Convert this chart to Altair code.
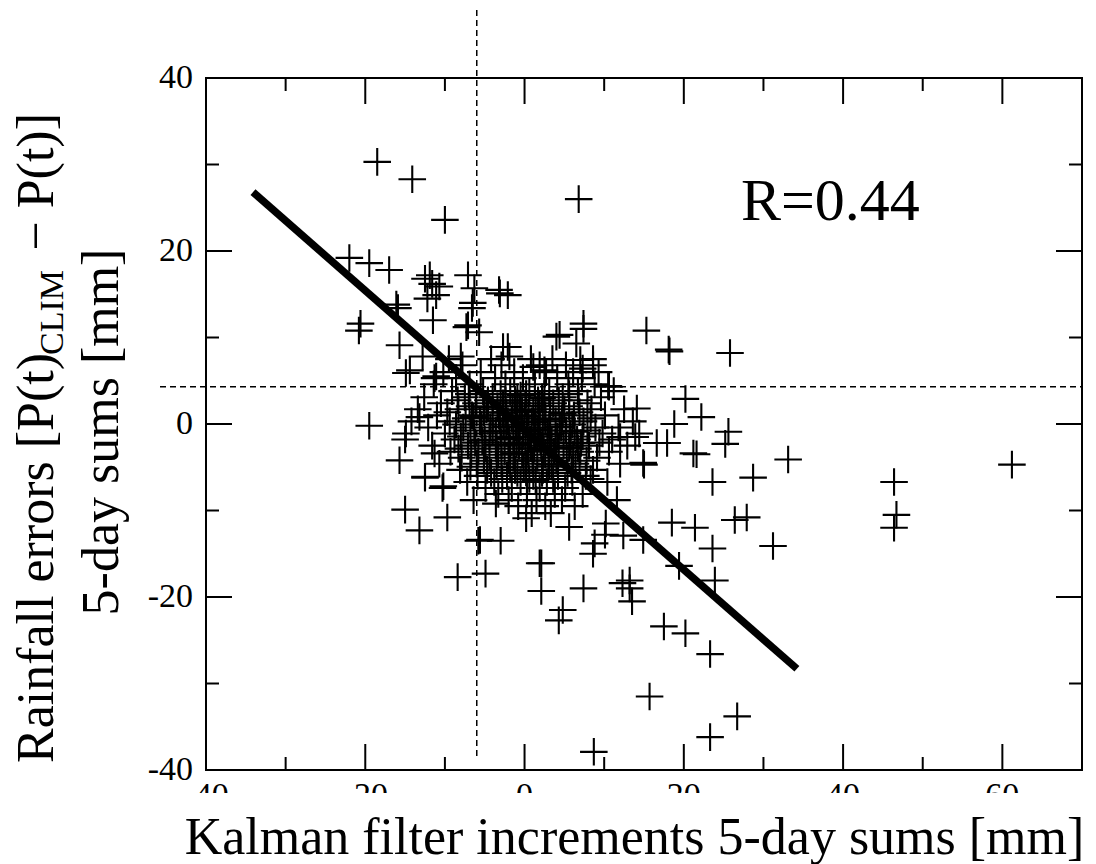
import altair as alt
import pandas as pd

FONT = "Liberation Serif"

# ---- data ----
# scattered (clearly separable) crosses
outer_pts = [
    (-18.5, 30.3), (-14.1, 28.3), (-10.0, 23.6), (6.8, 26.0),
    (-22.0, 19.2), (-19.5, 18.6), (-17.0, 17.8),
    (-11.9, 17.2), (-10.7, 15.9), (-11.1, 14.9), (-12.2, 14.5), (-12.5, 16.8), (-11.6, 16.2),
    (-7.1, 17.2), (-6.3, 15.7), (-3.2, 15.5), (-2.1, 14.9), (-6.5, 14.0), (-6.6, 13.4),
    (-15.9, 13.4), (-11.5, 12.0), (-20.6, 11.6), (-20.8, 10.8), (-7.1, 11.4), (-5.7, 10.6),
    (4.4, 10.3), (7.4, 11.0), (6.5, 9.3), (-15.7, 9.1), (-12.8, 7.8), (-8.0, 7.8), (-2.1, 8.9), (-1.9, 7.8),
    (2.5, 6.2), (7.3, 6.4), (-14.9, 5.9), (-11.1, 5.5), (10.6, 4.3), (4.0, 10.1), (8.6, 6.8), (7.0, 7.4),
    (-14.4, 6.2), (-11.3, 5.3), (-7.3, 11.2),
    (-19.5, -0.2), (-13.2, 0.8), (-14.9, -1.1), (-15.0, -1.8), (-15.7, -4.2), (-11.3, -3.4),
    (-12.5, -6.2), (-10.3, -7.4), (-15.0, -9.9), (-13.2, -12.3), (-9.7, -10.8), (-5.8, -13.5),
    (-3.0, -13.5), (-8.4, -17.7), (-4.9, -17.3), (2.1, -16.1), (2.1, -19.3), (7.4, -19.0),
    (4.8, -21.5), (4.3, -22.7), (12.3, -18.4), (-3.6, -9.2), (0.2, -10.9), (-6.4, -8.8),
    (8.8, -13.8), (8.6, -15.0), (5.6, -11.9), (10.2, -11.5),
    (15.3, 10.8), (18.2, 8.4), (25.8, 8.2), (10.5, 4.4), (20.2, 2.9), (14.1, 1.8), (22.2, 0.8), (18.8, 0.0),
    (25.6, -0.9), (25.2, -2.3), (17.9, -2.2), (16.6, -2.2), (13.9, -1.5), (12.0, -1.5), (21.6, -3.5), (15.0, -4.7),
    (33.1, -4.1), (23.6, -6.7), (28.7, -6.2), (46.4, -6.7), (61.2, -4.7), (46.7, -10.5), (46.4, -12.0),
    (11.6, -8.8), (18.5, -11.4), (21.4, -12.0), (26.4, -11.1), (27.9, -10.8), (12.4, -12.9), (14.9, -13.4),
    (10.1, -12.8), (23.6, -14.4), (31.2, -14.1), (19.4, -16.4), (23.9, -18.1), (13.2, -18.1), (13.2, -19.0),
    (13.5, -20.5), (17.5, -23.4), (20.2, -24.2), (23.3, -26.6), (15.7, -31.5), (26.7, -33.8), (23.3, -36.2),
    (8.7, -37.9), (18.1, 8.6), (-16.1, 13.8), (-3.1, 15.1), (-2.7, 8.9), (1.1, 6.6), (7.4, 11.6),
    (14.9, -4.5), (21.2, -3.4), (-12.5, -6.1), (-10.2, -7.2), (-5.6, -13.4), (1.9, -16.1),
]

# dense core (estimated)
core_pts = [
    (-9.5, 7.5), (-4.2, 7.5), (0.8, 7.5), (3.5, 7.5), (8.6, 7.5),
    (-7.8, 6.8), (-2.9, 6.8), (1.9, 6.8), (5.2, 6.8),
    (-10.2, 6.0), (-5.5, 6.0), (-1.3, 6.0), (2.7, 6.0), (6.1, 6.0), (9.3, 6.0),
    (-8.6, 5.3), (-3.7, 5.3), (-0.2, 5.3), (4.1, 5.3), (7.2, 5.3),
    (-11.4, 4.6), (-6.9, 4.6), (-2.4, 4.6), (1.3, 4.6), (5.5, 4.6), (8.8, 4.6),
    (-9.1, 3.8), (-5.2, 3.8), (-1.8, 3.8), (0.6, 3.8), (3.1, 3.8), (6.7, 3.8), (11.2, 3.8),
    (-12.6, 3.1), (-7.5, 3.1), (-4.0, 3.1), (-0.9, 3.1), (2.2, 3.1), (4.8, 3.1), (9.6, 3.1),
    (-10.5, 2.4), (-6.1, 2.4), (-2.7, 2.4), (0.1, 2.4), (3.6, 2.4), (7.9, 2.4),
    (-13.4, 1.7), (-8.3, 1.7), (-4.8, 1.7), (-1.5, 1.7), (1.4, 1.7), (5.0, 1.7), (8.4, 1.7), (12.5, 1.7),
    (-11.0, 1.0), (-6.6, 1.0), (-3.2, 1.0), (-0.4, 1.0), (2.6, 1.0), (6.2, 1.0), (10.1, 1.0),
    (-14.2, 0.3), (-9.4, 0.3), (-5.6, 0.3), (-2.1, 0.3), (0.9, 0.3), (3.9, 0.3), (7.4, 0.3), (13.6, 0.3),
    (-12.1, -0.4), (-7.7, -0.4), (-4.3, -0.4), (-1.1, -0.4), (1.8, -0.4), (4.6, -0.4), (8.9, -0.4), (11.8, -0.4),
    (-10.0, -1.1), (-6.3, -1.1), (-3.0, -1.1), (-0.2, -1.1), (2.9, -1.1), (5.7, -1.1), (9.8, -1.1), (14.4, -1.1),
    (-8.8, -1.8), (-5.0, -1.8), (-1.9, -1.8), (0.7, -1.8), (3.4, -1.8), (6.6, -1.8), (11.0, -1.8),
    (-11.6, -2.5), (-7.1, -2.5), (-3.6, -2.5), (-0.7, -2.5), (2.1, -2.5), (4.9, -2.5), (8.1, -2.5), (12.9, -2.5),
    (-9.3, -3.2), (-5.8, -3.2), (-2.5, -3.2), (0.4, -3.2), (3.7, -3.2), (7.0, -3.2), (10.6, -3.2),
    (-7.9, -3.9), (-4.4, -3.9), (-1.4, -3.9), (1.6, -3.9), (5.3, -3.9), (9.1, -3.9),
    (-10.7, -4.6), (-6.0, -4.6), (-2.9, -4.6), (0.2, -4.6), (3.0, -4.6), (6.4, -4.6), (12.0, -4.6),
    (-8.1, -5.3), (-4.7, -5.3), (-1.2, -5.3), (2.3, -5.3), (5.9, -5.3), (8.6, -5.3),
    (-5.9, -6.0), (-2.2, -6.0), (1.1, -6.0), (4.2, -6.0), (7.7, -6.0),
    (-7.2, -6.7), (-3.8, -6.7), (-0.5, -6.7), (2.8, -6.7), (6.0, -6.7), (10.4, -6.7),
    (-4.9, -7.4), (-1.6, -7.4), (1.9, -7.4), (5.1, -7.4),
    (-3.3, -8.1), (0.3, -8.1), (3.8, -8.1), (7.3, -8.1),
    (-2.0, -8.8), (1.5, -8.8), (4.7, -8.8),
    (-0.8, -9.5), (2.6, -9.5), (6.3, -9.5),
    (0.9, -10.3), (3.3, -10.3),
    (-1.6, 0.6), (0.4, -0.8), (1.2, 0.2), (-0.6, -1.5), (2.0, -1.9), (-2.3, -0.3), (0.0, 0.9),
    (1.7, -0.6), (-1.0, -2.3), (2.6, 0.5), (-3.1, 0.4), (0.8, -2.8), (-0.3, 1.6), (3.2, -1.2),
    (-2.0, -1.6), (1.1, 1.4), (-1.3, -3.4), (0.5, -4.2), (2.4, -3.0), (-2.7, 1.3), (3.9, -2.2),
    (-0.9, 2.4), (1.9, 2.1), (-3.5, -2.4), (4.4, -0.3), (-4.0, -0.9), (0.2, -5.6), (1.4, -6.5),
    (-1.8, -5.0), (3.1, -4.7), (-0.5, 3.3), (2.2, 3.0), (-2.4, 2.7), (4.8, 1.2), (5.6, -2.7),
    (-4.6, 1.9), (-5.3, -1.9), (6.3, -0.9), (-6.4, 0.8), (7.1, -2.2),
    (-7.0, 3.45), (-3.0, 3.45), (0.2, 3.45), (2.5, 3.45), (5.6, 3.45),
    (-8.4, 2.75), (-4.6, 2.75), (-1.2, 2.75), (1.7, 2.75), (4.3, 2.75), (6.8, 2.75),
    (-6.9, 2.05), (-3.4, 2.05), (-0.6, 2.05), (2.3, 2.05), (5.6, 2.05),
    (-9.7, 1.35), (-5.1, 1.35), (-2.3, 1.35), (0.5, 1.35), (3.2, 1.35), (6.9, 1.35),
    (-7.4, 0.65), (-4.0, 0.65), (-1.0, 0.65), (1.9, 0.65), (4.7, 0.65), (8.3, 0.65),
    (-8.6, -0.05), (-5.4, -0.05), (-2.6, -0.05), (0.3, -0.05), (3.1, -0.05), (6.0, -0.05),
    (-6.8, -0.75), (-3.6, -0.75), (-0.8, -0.75), (2.3, -0.75), (5.2, -0.75), (7.9, -0.75),
    (-8.0, -1.45), (-4.4, -1.45), (-1.4, -1.45), (1.4, -1.45), (4.1, -1.45), (7.3, -1.45),
    (-6.2, -2.15), (-2.9, -2.15), (0.1, -2.15), (2.9, -2.15), (5.8, -2.15), (9.4, -2.15),
    (-8.3, -2.85), (-4.9, -2.85), (-1.8, -2.85), (1.2, -2.85), (4.3, -2.85), (6.7, -2.85),
    (-6.7, -3.55), (-3.3, -3.55), (-0.3, -3.55), (2.6, -3.55), (6.1, -3.55),
    (-5.1, -4.25), (-2.0, -4.25), (1.0, -4.25), (4.0, -4.25), (7.8, -4.25),
    (-6.8, -4.95), (-3.5, -4.95), (-0.1, -4.95), (3.4, -4.95), (6.9, -4.95),
    (-4.2, -5.65), (-0.9, -5.65), (2.2, -5.65), (5.4, -5.65),
    (-2.8, -6.35), (0.6, -6.35), (3.6, -6.35), (8.3, -6.35),
]

fit_x = [-34.1, 34.2]
fit_y = [26.8, -28.3]
x_ref = -6.0
y_ref = 4.3
r_label = "R=0.44"
x_major = [-40, -20, 0, 20, 40, 60]
x_minor = [-30, -10, 10, 30, 50]
y_labels = [-40, -20, 0, 20, 40]
y_major = [-20, 0, 20]
y_minor = [-30, -10, 10, 30]

# ---- tables ----
pts = outer_pts + core_pts
df_pts = pd.DataFrame({"x": [p[0] for p in pts], "y": [p[1] for p in pts]})
df_fit = pd.DataFrame({"x": fit_x, "y": fit_y})
df_xlab = pd.DataFrame({"v": x_major, "t": [str(v) for v in x_major]})
df_ylab = pd.DataFrame({"v": y_labels, "t": [str(v) for v in y_labels]})
one = pd.DataFrame({"k": [0]})

W, H = 876, 692
xs = alt.Scale(domain=[-40, 70], nice=False, zero=False)
ys = alt.Scale(domain=[-40, 40], nice=False, zero=False)

x_axis = alt.Axis(
    values=x_major, ticks=False, tickSize=0, domain=False, grid=False, labels=False,
    title="Kalman filter increments 5-day sums [mm]", titleFont=FONT,
    titleFontSize=52, titleFontWeight="normal", titleColor="black",
    titleX=428, titleY=83, titleAlign="center", titleBaseline="alphabetic",
)
y_axis = alt.Axis(
    values=y_labels, ticks=False, tickSize=0, domain=False, grid=False, labels=False, title=None,
)


def X(field):
    return alt.X(field, scale=xs, axis=x_axis)


def Y(field):
    return alt.Y(field, scale=ys, axis=y_axis)


points = alt.Chart(df_pts).mark_point(
    shape="M-1,0L1,0M0,-1L0,1", size=760, filled=False,
    color="black", strokeWidth=2.1, opacity=1,
).encode(x=X("x:Q"), y=Y("y:Q"))

vdash = alt.Chart(one).mark_rule(color="black", strokeWidth=1.5, strokeDash=[6, 4]).encode(
    x=alt.datum(x_ref, scale=xs, axis=x_axis), y=alt.value(-68), y2=alt.value(680)
)
hdash = alt.Chart(one).mark_rule(color="black", strokeWidth=1.5, strokeDash=[6, 4]).encode(
    y=alt.datum(y_ref, scale=ys, axis=y_axis), x=alt.value(-46), x2=alt.value(W)
)

fit = alt.Chart(df_fit).mark_line(color="black", strokeWidth=7.5, strokeCap="butt").encode(
    x=X("x:Q"), y=Y("y:Q")
)


def xticks(vals, length):
    d = pd.DataFrame({"v": vals})
    bot = alt.Chart(d).mark_rule(color="black", strokeWidth=2).encode(
        x=X("v:Q"), y=alt.value(H), y2=alt.value(H - length))
    top = alt.Chart(d).mark_rule(color="black", strokeWidth=2).encode(
        x=X("v:Q"), y=alt.value(0), y2=alt.value(length))
    return [bot, top]


def yticks(vals, length):
    d = pd.DataFrame({"v": vals})
    left = alt.Chart(d).mark_rule(color="black", strokeWidth=2).encode(
        y=Y("v:Q"), x=alt.value(0), x2=alt.value(length))
    right = alt.Chart(d).mark_rule(color="black", strokeWidth=2).encode(
        y=Y("v:Q"), x=alt.value(W), x2=alt.value(W - length))
    return [left, right]


ticks = xticks(x_major, 26) + xticks(x_minor, 13) + yticks(y_major, 26) + yticks(y_minor, 13)

# tick labels as serif text, placed through the scales
xlabels = alt.Chart(df_xlab).mark_text(
    font=FONT, fontSize=34, fill="black", align="center", baseline="top"
).encode(x=X("v:Q"), y=alt.value(H + 9), text="t:N")
ylabels = alt.Chart(df_ylab).mark_text(
    font=FONT, fontSize=34, fill="black", align="right", baseline="middle"
).encode(y=Y("v:Q"), x=alt.value(-13), text="t:N")

r_text = alt.Chart(pd.DataFrame({"t": [r_label]})).mark_text(
    font=FONT, fontSize=60, fill="black", align="center", baseline="alphabetic"
).encode(
    x=alt.datum(38.4, scale=xs, axis=x_axis),
    y=alt.datum(23.6, scale=ys, axis=y_axis),
    text="t:N",
)


def vtext(s, x, y, size, align):
    return alt.Chart(pd.DataFrame({"t": [s]})).mark_text(
        font=FONT, fontSize=size, fill="black", angle=270, align=align, baseline="alphabetic"
    ).encode(x=alt.value(x), y=alt.value(y), text="t:N")


ytitle = [
    vtext("Rainfall errors [P(t)", -153, 685, 52, "left"),
    vtext("CLIM", -143, 277, 34, "left"),
    vtext("\u2212 P(t)]", -153, 35, 52, "right"),
    vtext("5-day sums [mm]", -88, 354, 52, "center"),
]

# white band hiding the lower half of the x tick labels, as in the original
cover = alt.Chart(one).mark_rect(color="white").encode(
    x=alt.value(-60), x2=alt.value(W + 20), y=alt.value(715), y2=alt.value(734)
)

chart = alt.layer(
    points, vdash, hdash, fit, *ticks, xlabels, ylabels, r_text, *ytitle, cover
).properties(
    width=W, height=H,
    autosize=alt.AutoSizeParams(type="none"),
    padding={"left": 206, "top": 78, "right": 14, "bottom": 94},
    background="white",
).configure_view(
    stroke="black", strokeWidth=2
).configure_axis(
    titleFont=FONT, titleColor="black",
)

chart.save("out.html", embed_options={"renderer": "svg", "actions": False})
